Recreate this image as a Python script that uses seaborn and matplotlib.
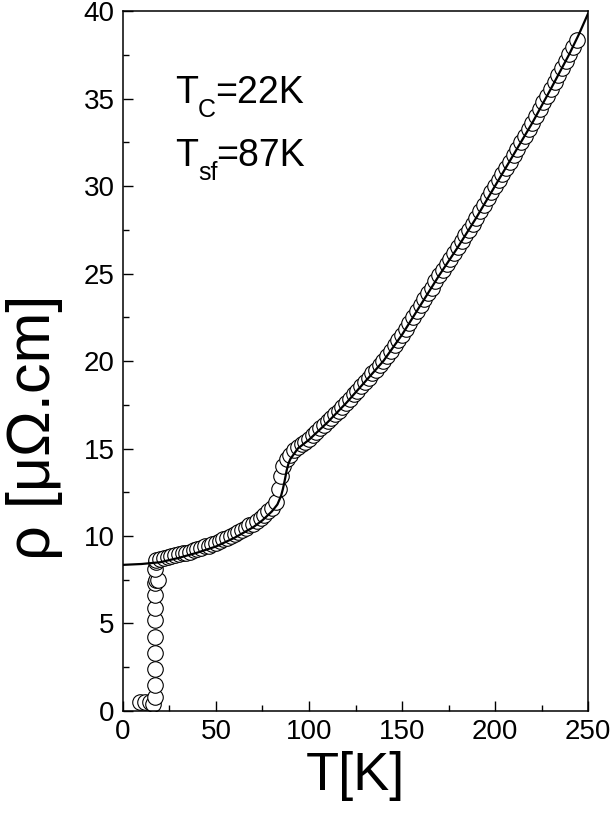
import numpy as np
import pandas as pd
import seaborn as sns
import matplotlib
matplotlib.use('Agg')
import matplotlib.pyplot as plt
from matplotlib.ticker import MultipleLocator

# measured points, superconducting drop
T_sc = [9.1, 11.8, 14.5, 16.3, 17.2, 17.0, 17.0, 17.0, 17.0, 17.0, 17.0, 17.0, 17.2, 17.5, 18.6, 17.4, 17.8]
rho_sc = [0.5, 0.5, 0.5, 0.4, 0.8, 1.5, 2.4, 3.3, 4.2, 5.2, 5.9, 6.6, 7.3, 7.5, 7.5, 8.1, 8.5]

# measured points, normal state
T_n = [18, 20, 22, 24, 26, 28, 30, 32, 34, 36, 38, 40, 42, 44, 46, 48, 50, 52, 54, 56,
       58, 60, 62, 64, 66, 68, 70, 72, 74, 76, 78, 80, 82, 84, 85, 86, 88, 90, 92, 94,
       96, 98, 100, 102, 104, 106, 108, 110, 112, 114, 116, 118, 120, 122, 124, 126, 128, 130, 132, 134,
       136, 138, 140, 142, 144, 146, 148, 150, 152, 154, 156, 158, 160, 162, 164, 166, 168, 170, 172, 174,
       176, 178, 180, 182, 184, 186, 188, 190, 192, 194, 196, 198, 200, 202, 204, 206, 208, 210, 212, 214,
       216, 218, 220, 222, 224, 226, 228, 230, 232, 234, 236, 238, 240, 242, 244]
rho_n = [8.65, 8.7, 8.75, 8.8, 8.85, 8.9, 8.95, 9.0, 9.05, 9.1, 9.2, 9.25, 9.3, 9.4, 9.45, 9.55, 9.6, 9.7, 9.8, 9.9,
         10.0, 10.1, 10.2, 10.35, 10.45, 10.6, 10.7, 10.85, 11.0, 11.2, 11.4, 11.6, 11.95, 12.7, 13.4, 14.0, 14.4, 14.65, 14.9, 15.1,
         15.25, 15.4, 15.55, 15.75, 15.95, 16.15, 16.35, 16.55, 16.75, 16.95, 17.15, 17.4, 17.6, 17.85, 18.1, 18.3, 18.55, 18.8, 19.05, 19.3,
         19.5, 19.75, 20.0, 20.3, 20.6, 20.9, 21.2, 21.5, 21.85, 22.2, 22.5, 22.85, 23.2, 23.55, 23.9, 24.2, 24.55, 24.9, 25.2, 25.55,
         25.85, 26.2, 26.5, 26.85, 27.2, 27.5, 27.85, 28.2, 28.55, 28.9, 29.3, 29.65, 30.0, 30.35, 30.7, 31.05, 31.4, 31.75, 32.1, 32.5,
         32.85, 33.25, 33.6, 34.0, 34.4, 34.8, 35.15, 35.55, 35.95, 36.35, 36.75, 37.15, 37.55, 37.95, 38.35]

# fit curve
T_fit = [0, 10, 20, 30, 40, 50, 60, 70, 75, 80, 83, 85, 86, 87, 88, 89, 90, 92, 94, 100,
         110, 120, 130, 140, 150, 160, 170, 180, 190, 200, 210, 220, 230, 240, 245, 250]
rho_fit = [8.35, 8.4, 8.5, 8.75, 9.05, 9.4, 9.9, 10.5, 10.9, 11.4, 11.8, 12.3, 12.7, 13.2, 13.75, 14.15, 14.4, 14.7, 15.0, 15.5,
           16.5, 17.6, 18.8, 20.0, 21.5, 23.2, 24.9, 26.5, 28.2, 30.0, 31.8, 33.6, 35.55, 37.55, 38.65, 39.85]

pts = pd.DataFrame({'T': T_sc + T_n, 'rho': rho_sc + rho_n})
fit = pd.DataFrame({'T': T_fit, 'rho': rho_fit})

sns.set_style('ticks')
plt.rcParams['font.family'] = ['Liberation Sans', 'DejaVu Sans']
plt.rcParams['text.color'] = 'black'
plt.rcParams['axes.labelcolor'] = 'black'

fig = plt.figure(figsize=(6.14, 8.30), dpi=100)
ax = fig.add_axes([0.2003, 0.1434, 0.7574, 0.8433])

sns.scatterplot(data=pts, x='T', y='rho', ax=ax, marker='o', s=125,
                facecolor='white', edgecolor='black', linewidth=0.8, zorder=2)
sns.lineplot(data=fit, x='T', y='rho', ax=ax, color='black', linewidth=1.6, zorder=3)

ax.set_xlim(0, 250)
ax.set_ylim(0, 40)
ax.xaxis.set_major_locator(MultipleLocator(50))
ax.xaxis.set_minor_locator(MultipleLocator(25))
ax.yaxis.set_major_locator(MultipleLocator(5))
ax.yaxis.set_minor_locator(MultipleLocator(2.5))
ax.tick_params(which='both', direction='in', top=False, right=False, width=1, colors='black')
ax.tick_params(which='major', length=7, labelsize=20, pad=6)
ax.tick_params(which='minor', length=4)
for sp in ax.spines.values():
    sp.set_linewidth(1.1)
    sp.set_color('black')

ax.set_xlabel('T[K]', fontsize=39, labelpad=4, color='black')
ax.set_ylabel('ρ [μΩ.cm]', fontsize=44, color='black')
ax.yaxis.set_label_coords(-0.13, 0.405)

# labels with lowered subscripts
def sub_label(x, y, main, sub, rest):
    t1 = ax.text(x, y, main, fontsize=27, va='bottom', color='black')
    t2 = ax.annotate(sub, xy=(1, 0), xycoords=t1, xytext=(0, -8),
                     textcoords='offset points', fontsize=18, va='bottom', color='black')
    ax.annotate(rest, xy=(1, 0), xycoords=(t2, t1), xytext=(-1, 0),
                textcoords='offset points', fontsize=27, va='bottom', color='black')

sub_label(28, 34.3, 'T', 'C', '=22K')
sub_label(28, 30.7, 'T', 'sf', '=87K')

fig.savefig('out.png', dpi=100)
